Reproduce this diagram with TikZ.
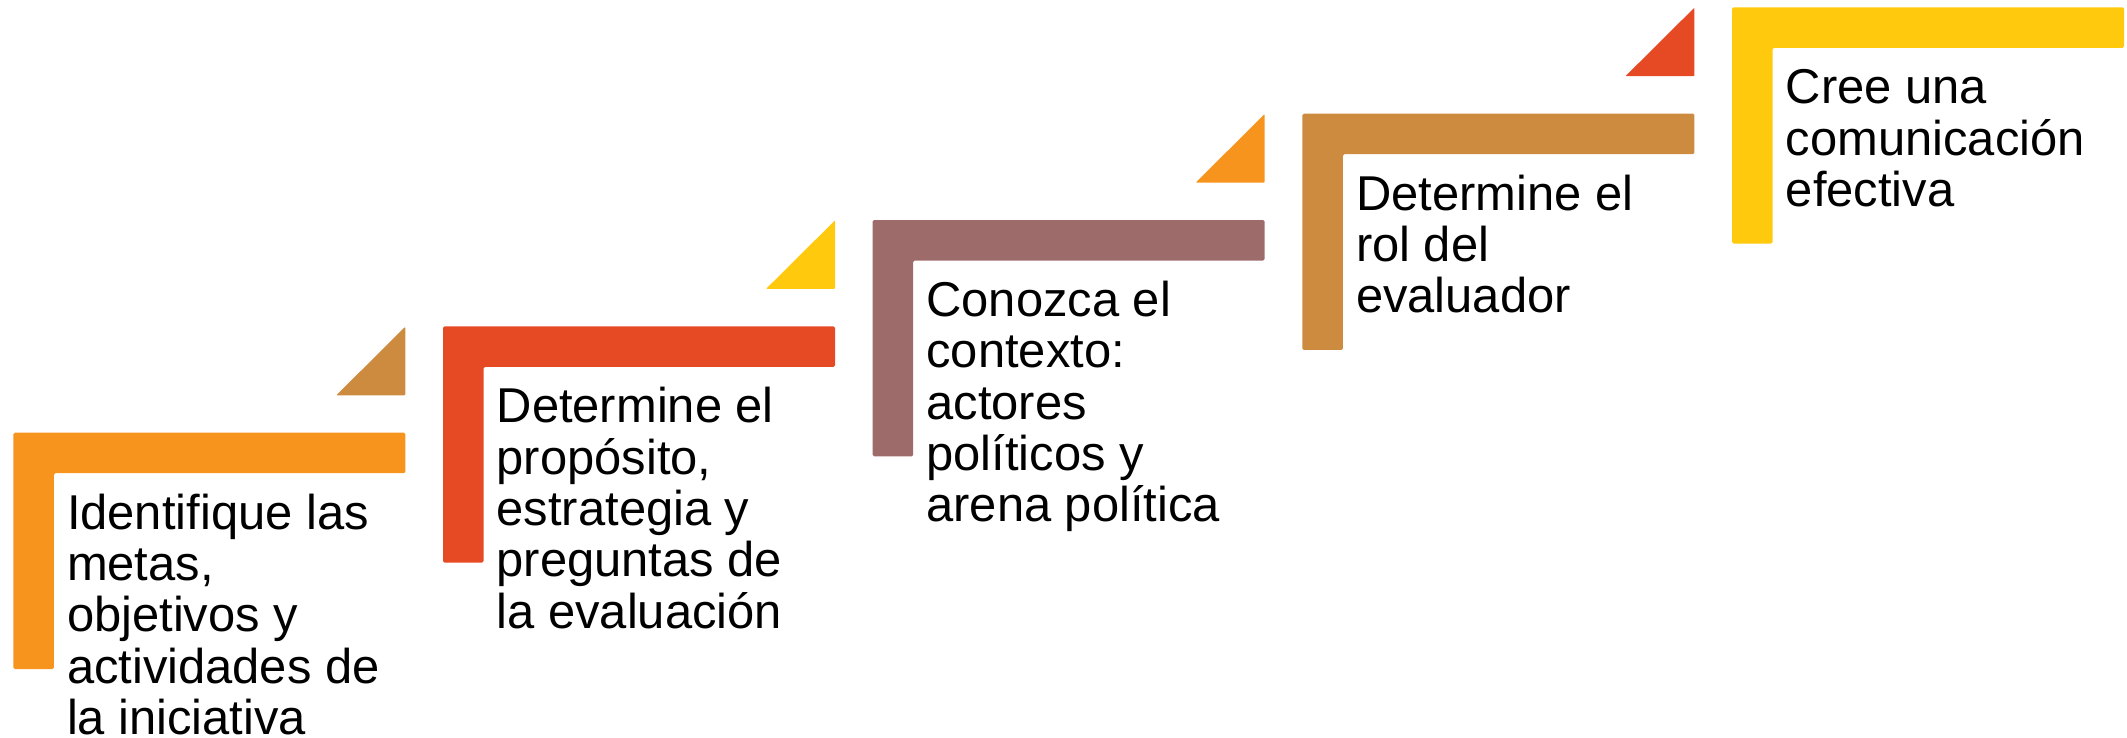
\documentclass[tikz,border=0pt]{standalone}
\usepackage{fontspec}
\setmainfont{Liberation Sans}
\definecolor{cOrange}{RGB}{247,148,30}
\definecolor{cRed}{RGB}{230,74,37}
\definecolor{cMauve}{RGB}{158,107,107}
\definecolor{cBrown}{RGB}{205,139,64}
\definecolor{cYellow}{RGB}{255,201,14}
\begin{document}
\begin{tikzpicture}[x=1pt,y=-1pt,
  lbar/.style={fill=#1, rounded corners=1.5pt},
  tri/.style={fill=#1, rounded corners=1pt},
  steptext/.style={anchor=base west, align=left, inner sep=0pt,
    font=\fontsize{48.9}{51.3}\selectfont}]
\useasboundingbox (0,0) rectangle (2127,738);
\foreach \i/\c in {0/cOrange,1/cRed,2/cMauve,3/cBrown,4/cYellow} {
  \pgfmathsetmacro\X{13.3+429.7*\i}
  \pgfmathsetmacro\Y{432.7-106.35*\i}
  \path[lbar=\c] (\X,\Y) -- ++(392,0) -- ++(0,40.5) -- ++(-351.5,0)
     -- ++(0,195.8) -- ++(-40.5,0) -- cycle;
  \coordinate (s\i) at (\X+53.5,\Y+96.5);
}
\foreach \i/\c in {0/cBrown,1/cYellow,2/cOrange,3/cRed} {
  \pgfmathsetmacro\R{13.3+429.7*\i+392}
  \pgfmathsetmacro\Y{432.7-106.35*\i}
  \path[tri=\c] (\R,\Y-106) -- (\R,\Y-37.4) -- (\R-69,\Y-37.4) -- cycle;
}
\node[steptext] (t1) at ([yshift=-205.2pt]s0) {Identifique las\\metas,\\objetivos y\\actividades de\\la iniciativa};
\node[steptext] (t2) at ([yshift=-205.2pt]s1) {Determine el\\propósito,\\estrategia y\\preguntas de\\la evaluación};
\node[steptext] (t3) at ([yshift=-205.2pt]s2) {Conozca el\\contexto:\\actores\\políticos y\\arena política};
\node[steptext] (t4) at ([yshift=-102.6pt]s3) {Determine el\\rol del\\evaluador};
\node[steptext] (t5) at ([yshift=-102.6pt]s4) {Cree una\\comunicación\\efectiva};
\end{tikzpicture}
\end{document}
